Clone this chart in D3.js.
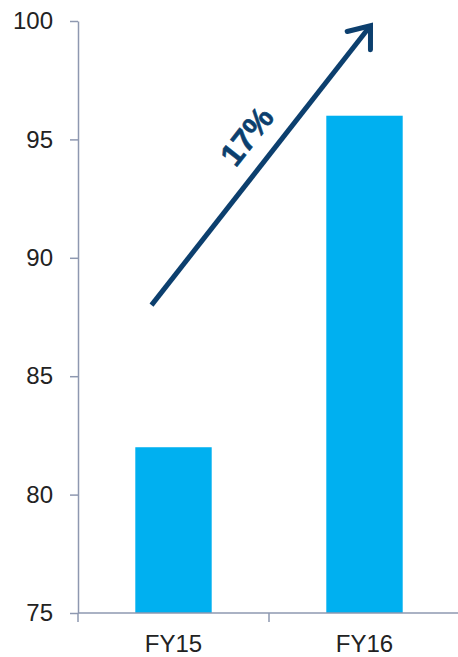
<!DOCTYPE html>
<html>
<head>
<meta charset="utf-8">
<script src="https://cdn.jsdelivr.net/npm/d3@7"></script>
<style>
  body { margin: 0; background: #fff; }
  text { font-family: "Liberation Sans", Arial, sans-serif; }
</style>
</head>
<body>
<div id="chart"></div>
<script>
var width = 458, height = 657;
var margin = {top: 21, right: -2, bottom: 44, left: 78};

// data
var categories = ["FY15", "FY16"];
var values = [82, 96];
var yTicks = [75, 80, 85, 90, 95, 100];
var growthLabel = "17%";
// arrow annotation in data terms: from FY15 at 88 to FY16 at 99.8
var arrowFrom = {cat: "FY15", value: 88};
var arrowTo = {cat: "FY16", value: 99.8};

var svg = d3.select("#chart").append("svg")
    .attr("width", width)
    .attr("height", height);

var x = d3.scaleBand()
    .domain(categories)
    .range([margin.left, width - margin.right])
    .padding(0);

var y = d3.scaleLinear()
    .domain([75, 100])
    .range([height - margin.bottom, margin.top]);

var axisColor = "#8e98b0";
var barW = x.bandwidth() * 0.4;

// bars
svg.selectAll("rect.bar")
    .data(values)
    .enter().append("rect")
    .attr("class", "bar")
    .attr("x", function(d, i) { return x(categories[i]) + (x.bandwidth() - barW) / 2; })
    .attr("y", function(d) { return y(d); })
    .attr("width", barW)
    .attr("height", function(d) { return y(75) - y(d); })
    .attr("fill", "#00b0f0");

// y axis
var yAxis = svg.append("g")
    .attr("transform", "translate(" + margin.left + ",0)")
    .call(d3.axisLeft(y).tickValues(yTicks).tickSize(8).tickPadding(17).tickSizeOuter(0));
yAxis.select(".domain").attr("stroke", axisColor).attr("stroke-width", 1.5);
yAxis.selectAll(".tick line").attr("stroke", axisColor).attr("stroke-width", 1.5);
yAxis.selectAll(".tick text")
    .attr("fill", "#222")
    .style("font-size", "24px")
    .style("font-family", "Liberation Sans, Arial, sans-serif");

// x axis (ticks at the band edges)
var xAxisG = svg.append("g")
    .attr("transform", "translate(0," + y(75) + ")");
xAxisG.append("line")
    .attr("x1", margin.left).attr("x2", width)
    .attr("stroke", axisColor).attr("stroke-width", 1.5);
var edges = categories.map(function(c) { return x(c); });
xAxisG.selectAll("line.tk")
    .data(edges)
    .enter().append("line")
    .attr("class", "tk")
    .attr("x1", function(d) { return d; })
    .attr("x2", function(d) { return d; })
    .attr("y1", 0).attr("y2", 9)
    .attr("stroke", axisColor).attr("stroke-width", 1.5);
xAxisG.selectAll("text")
    .data(categories)
    .enter().append("text")
    .attr("x", function(d) { return x(d) + x.bandwidth() / 2; })
    .attr("y", 39)
    .attr("text-anchor", "middle")
    .attr("fill", "#222")
    .style("font-size", "24px")
    .text(function(d) { return d; });

// growth arrow
var navy = "#0c3f6e";
var x1 = x(arrowFrom.cat) + x.bandwidth() / 2 - 22, y1 = y(arrowFrom.value);
var x2 = x(arrowTo.cat) + x.bandwidth() / 2 + 6, y2 = y(arrowTo.value);
var ang = Math.atan2(y2 - y1, x2 - x1);
var deg = ang * 180 / Math.PI;

svg.append("line")
    .attr("x1", x1).attr("y1", y1)
    .attr("x2", x2 - 2 * Math.cos(ang)).attr("y2", y2 - 2 * Math.sin(ang))
    .attr("stroke", navy)
    .attr("stroke-width", 5);

var headLen = 24, headAng = 38 * Math.PI / 180;
svg.append("path")
    .attr("d", "M" + (x2 - headLen * Math.cos(ang - headAng)) + "," + (y2 - headLen * Math.sin(ang - headAng)) +
         "L" + x2 + "," + y2 +
         "L" + (x2 - headLen * Math.cos(ang + headAng)) + "," + (y2 - headLen * Math.sin(ang + headAng)))
    .attr("fill", "none")
    .attr("stroke", navy)
    .attr("stroke-width", 5)
    .attr("stroke-linecap", "round")
    .attr("stroke-linejoin", "miter");

// label along the arrow
var t = 0.54;
var lx = x1 + (x2 - x1) * t, ly = y1 + (y2 - y1) * t;
svg.append("text")
    .attr("transform", "translate(" + lx + "," + ly + ") rotate(" + deg + ") translate(0,-18)")
    .attr("text-anchor", "middle")
    .attr("fill", navy)
    .attr("stroke", navy)
    .attr("stroke-width", 0.6)
    .style("font-size", "32px")
    .style("font-weight", "bold")
    .text(growthLabel);
</script>
</body>
</html>
